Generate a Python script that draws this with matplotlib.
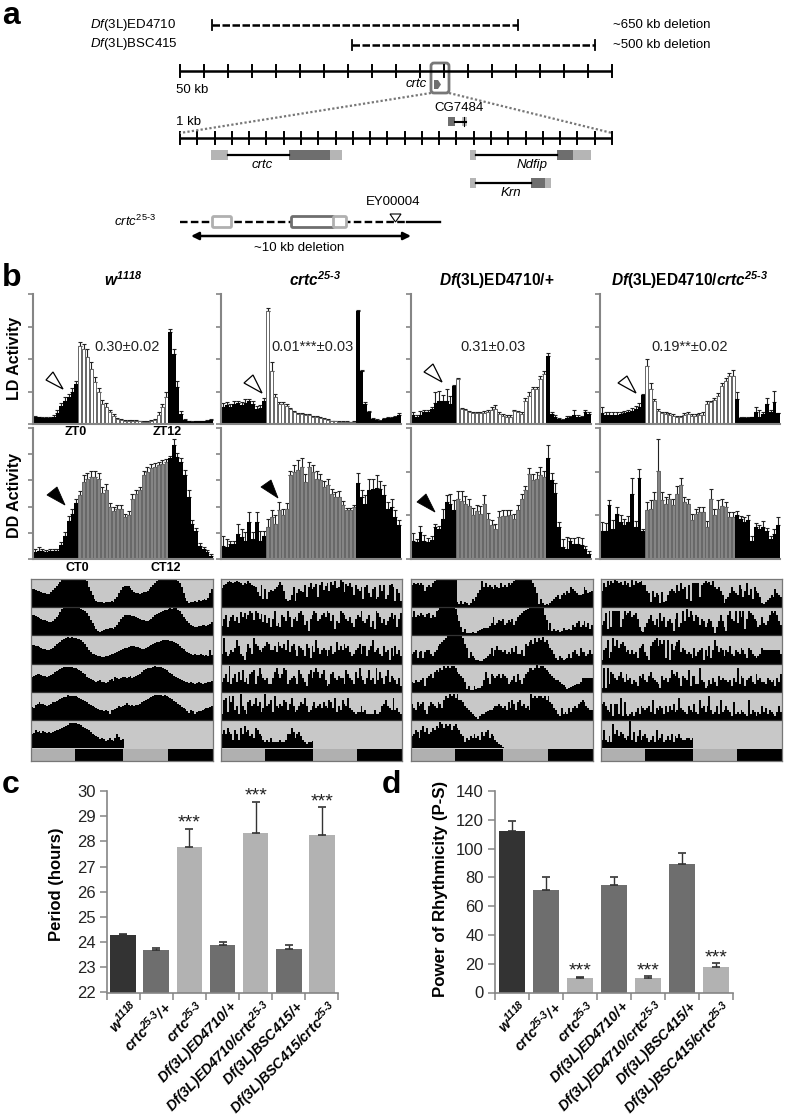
import numpy as np
import matplotlib
matplotlib.use('Agg')
import matplotlib.pyplot as plt
from matplotlib.patches import Rectangle, FancyBboxPatch, Polygon

plt.rcParams['font.family'] = ['Liberation Sans', 'DejaVu Sans']
plt.rcParams['mathtext.fontset'] = 'custom'
plt.rcParams['mathtext.rm'] = 'Liberation Sans'
plt.rcParams['mathtext.it'] = 'Liberation Sans:italic'
plt.rcParams['mathtext.bf'] = 'Liberation Sans:bold'
plt.rcParams['mathtext.bfit'] = 'Liberation Sans:italic:bold'

W, H = 787, 1119
AXC = '#858585'

# panel b, LD activity (one tick = 97.5)
ld_w = [22,20,19,18,18,22,34,55,70,80,95,120, 233,224,200,165,125,95,60,52,35,25,15,12,10,10,9,9,8,7,7,8,12,28,50,80, 275,210,110,30,12,8,6,8,8,8,9,12]
ld_w_err = [3,2,2,2,2,5,8,8,10,10,12,10, 12,15,25,20,15,12,12,10,8,5,4,3,3,3,2,2,2,2,2,3,4,8,10,15, 10,14,18,8,3,2,2,2,2,2,2,3]
ld_c = [50,58,52,60,62,58,62,68,60,45,48,70, 340,160,82,60,60,55,45,35,30,30,28,28,22,20,18,15,12,8,8,6,6,6,5,6, 340,160,60,35,15,12,10,15,18,18,20,28]
ld_c_err = [12,8,8,8,8,8,12,8,8,8,8,8, 9,27,8,5,5,5,4,4,4,4,3,3,3,3,3,3,2,2,2,2,2,2,2,2, 3,3,5,5,3,3,2,3,3,3,3,4]
ld_d = [28,22,28,35,35,45,62,70,68,70,60,115, 135,45,42,35,32,32,33,32,35,42,45,30,25,22,22,38,35,30,70,85,105,105,135,150, 205,30,22,15,12,18,20,28,22,20,35,30]
ld_d_err = [8,5,10,8,8,5,35,30,20,35,25,3, 3,3,3,3,3,3,3,6,8,8,12,5,4,4,4,4,4,5,8,10,5,5,8,8, 8,6,5,4,4,5,5,15,6,5,6,6]
ld_dc = [32,28,28,28,28,30,32,35,40,45,50,88, 175,105,70,40,33,30,28,25,20,20,28,30,25,25,28,28,60,65,72,85,115,130,145,145, 75,18,18,18,20,35,22,30,60,35,65,32]
ld_dc_err = [18,8,8,8,8,5,6,6,8,8,12,3, 20,18,5,6,4,5,5,4,3,3,5,6,4,4,5,8,8,5,5,8,8,8,8,18, 20,2,2,2,2,15,20,6,18,6,35,2]

# panel b, DD activity
dd_w = [22,25,24,22,23,24,25,42,70,112,135,168, 190,231,240,245,244,240,196,205,155,144,150,150,125,130,178,195,205,250,260,272,275,280,285,290, 300,340,305,290,250,185,105,85,40,30,20,10]
dd_w_err = [8,12,5,5,6,5,6,8,12,15,15,12, 12,20,18,18,18,18,20,20,12,12,12,12,10,12,15,12,10,12,15,12,12,10,10,8, 8,18,12,12,15,20,12,8,8,6,6,5]
dd_c = [40,35,45,45,75,65,55,110,60,110,55,70, 96,126,105,146,130,150,250,260,265,276,230,275,260,240,235,215,220,195,185,185,160,145,145,155, 226,185,165,205,210,212,208,190,150,155,125,100]
dd_c_err = [28,25,10,10,30,25,25,30,20,30,30,15, 22,20,25,25,20,18,12,22,30,25,25,15,22,22,18,18,20,15,15,18,12,8,8,6, 30,20,25,35,30,40,25,30,20,25,20,15]
dd_d = [55,50,80,55,50,58,95,90,120,170,165,145, 178,172,165,158,132,142,135,165,118,100,90,125,128,128,130,120,145,178,205,255,235,240,250,245, 300,236,196,96,35,30,53,45,45,43,30,15]
dd_d_err = [22,10,18,18,12,12,10,8,28,20,28,30, 25,30,22,22,20,18,22,25,20,15,15,18,18,18,15,15,15,15,12,18,20,20,25,18, 40,20,30,15,25,35,10,18,20,20,8,10]
dd_dc = [85,85,160,90,135,110,100,110,195,95,243,85, 145,150,175,264,175,165,180,160,193,220,170,165,115,135,140,140,95,180,130,150,157,155,125,125, 130,120,110,115,55,95,90,95,85,60,75,100]
dd_dc_err = [25,22,15,25,20,22,18,18,48,18,25,5, 25,25,25,95,25,20,15,20,25,22,15,15,18,15,15,15,18,30,18,25,22,15,15,15, 12,8,15,15,15,12,12,18,8,10,15,25]

ld_values = [(ld_w, ld_w_err), (ld_c, ld_c_err), (ld_d, ld_d_err), (ld_dc, ld_dc_err)]
dd_values = [(dd_w, dd_w_err), (dd_c, dd_c_err), (dd_d, dd_d_err), (dd_dc, dd_dc_err)]
dd_ticks = [5, 5, 3, 3]
ld_notes = ['0.30±0.02', '0.01***±0.03', '0.31±0.03', '0.19**±0.02']

# actograms, activity per bin, 28 = full row
acto_w = [
 [18,18,17,16,16,15,14,14,13,13,15,17,19,21,23,25,27,28,28,28,28,28,28,28,28,28,28,28,28,26,20,16,12,8,6,5,5,5,4,5,5,5,6,5,8,10,14,17,20,21,21,21,19,17,15,14,14,13,14,15,15,16,18,20,22,24,26,27,28,28,28,28,28,28,28,28,28,26,24,20,14,9,6,4,5,5,6,5,7,6,7,8,7,9,14,18],
 [20,20,19,18,17,16,15,15,14,13,13,14,16,18,20,23,26,27,28,28,28,28,28,28,28,27,26,25,24,22,19,15,12,9,6,4,3,4,5,6,6,7,7,6,8,10,13,16,18,20,20,20,20,19,19,18,17,16,15,15,14,14,15,16,18,20,21,22,23,24,25,25,26,27,26,27,27,25,24,21,18,16,14,12,10,9,8,8,9,9,10,10,9,10,11,13],
 [19,19,18,18,17,16,15,15,14,14,15,16,18,20,21,22,24,25,26,27,26,27,26,26,25,25,24,22,20,17,14,12,10,10,9,8,8,7,7,8,8,9,10,10,11,12,13,14,15,16,16,17,18,18,18,17,17,16,15,15,16,17,18,19,20,21,22,22,23,24,24,24,24,23,23,22,21,20,18,16,15,13,12,11,10,9,10,9,9,10,9,8,9,8,14,9],
 [15,16,17,18,18,17,16,16,15,16,17,18,20,21,22,23,24,25,25,25,25,25,24,24,23,22,21,19,18,15,14,13,12,11,10,11,12,10,10,9,10,12,13,11,15,14,13,14,15,15,14,15,16,14,15,16,17,18,20,22,23,24,24,24,25,26,25,25,25,24,23,22,20,19,18,16,15,14,13,12,11,10,10,9,10,9,8,9,10,9,8,9,9,10,10,11],
 [13,12,15,16,18,16,16,15,14,15,16,18,18,19,20,21,22,23,23,25,24,24,24,24,23,22,21,20,19,18,16,15,14,13,12,11,10,10,9,10,9,6,10,10,11,12,14,13,14,15,17,15,14,15,14,15,15,16,18,19,20,21,22,23,24,25,25,25,25,24,25,24,23,22,21,19,18,16,15,13,12,11,9,7,10,9,6,8,9,9,10,11,12,12,13,14],
 [14,15,18,16,17,15,17,16,15,16,15,16,17,18,18,19,20,21,22,23,25,25,25,25,24,24,23,21,20,19,18,16,14,13,12,11,9,10,9,7,8,10,8,7,10,14,11,8,9],
]
acto_c = [
 [19,22,23,25,26,25,24,25,26,25,24,22,24,23,26,24,22,21,20,15,11,22,8,18,8,15,17,16,18,20,22,25,22,16,8,6,7,12,20,6,14,18,16,15,22,10,20,24,18,20,23,10,22,25,17,21,24,16,25,22,26,19,20,27,25,15,23,21,24,20,12,22,18,16,20,8,20,22,14,10,18,20,8,10,22,16,22,8,12,22,23,20,6,18,14,6],
 [9,16,20,8,14,18,20,14,18,12,23,18,22,16,20,24,22,15,24,22,16,21,13,20,12,17,8,16,24,9,12,8,20,18,14,24,18,8,16,18,14,22,24,20,10,14,4,16,20,24,22,14,16,20,22,18,24,22,14,20,6,14,12,24,22,20,16,14,18,12,8,16,20,18,24,14,12,16,20,8,14,6,24,22,18,12,16,10,14,18,22,16,20,8,16,22],
 [10,26,12,8,10,14,12,16,24,18,10,8,4,12,20,16,10,26,20,18,14,12,16,18,22,20,14,14,18,12,22,18,16,20,14,24,12,18,20,14,8,18,16,14,8,20,16,6,18,12,24,16,10,14,16,14,8,14,18,10,12,22,14,18,14,20,16,18,12,8,10,14,16,20,10,18,18,8,14,18,24,12,14,16,10,8,18,12,14,4,16,8,18,10,14,8],
 [10,14,18,10,26,8,14,18,10,20,12,22,10,14,8,18,20,22,8,16,24,18,14,12,14,8,8,14,20,24,18,14,18,24,22,8,12,14,16,14,8,22,18,14,10,6,18,22,14,20,24,20,14,18,22,12,6,8,18,20,14,12,16,14,14,8,22,18,14,12,8,20,14,24,16,12,8,14,22,12,14,8,24,12,20,14,8,16,22,10,16,14,12,8,14,6],
 [6,20,22,8,24,18,24,10,14,6,26,14,10,6,18,20,14,16,22,14,18,8,12,26,14,16,20,8,24,14,12,16,14,20,18,10,16,22,14,8,10,14,18,16,22,14,8,10,14,18,12,14,16,12,18,14,12,20,18,12,22,8,14,10,20,16,14,22,12,10,8,6,8,8,14,8,10,6,6,6,6,10,6,6,8,14,16,20,14,12,10,22,10,12,8,6],
 [14,18,14,20,16,14,8,18,14,8,20,14,22,16,18,12,14,10,20,18,14,12,8,6,8,6,10,6,6,6,6,8,6,6,8,14,14,20,16,10,14,16,12,8,6,4,6,6,7],
]
acto_d = [
 [22,24,23,24,22,24,22,16,20,22,20,24,26,28,28,28,28,28,28,28,28,28,28,28,5,3,6,3,5,4,2,4,8,6,10,14,17,26,20,24,20,22,20,18,22,20,19,24,20,22,20,24,22,24,26,28,28,28,28,28,28,28,28,28,24,20,14,3,8,4,2,3,2,4,6,8,10,12,8,12,14,12,16,14,20,18,16,14,12,12,13,20,17,14,15,16],
 [18,24,18,20,19,22,20,18,21,22,17,20,18,24,25,28,28,28,28,28,28,28,28,26,20,14,8,3,6,2,2,2,3,2,2,4,5,6,7,7,7,9,12,18,10,12,15,14,16,10,12,15,13,16,10,14,18,20,22,24,25,26,28,28,28,28,28,28,28,28,20,15,5,12,4,6,4,5,3,4,7,5,5,6,5,10,8,12,14,8,10,14,8,12,6,10],
 [10,12,14,6,12,13,6,12,14,14,10,8,12,14,18,20,22,24,26,28,28,28,28,28,28,28,28,26,20,16,6,12,8,6,4,4,3,3,5,6,8,10,16,8,14,18,14,14,12,14,10,12,10,16,12,18,10,10,14,8,20,18,22,24,20,26,22,26,24,27,22,24,20,16,14,10,6,4,8,6,4,5,6,10,6,12,14,10,8,16,12,12,8,10,14,10],
 [10,9,12,10,10,12,14,6,14,16,18,14,20,22,20,24,22,26,24,26,24,26,26,24,20,18,16,14,10,3,6,2,2,6,3,4,4,6,12,20,14,8,18,16,14,16,18,14,18,16,14,8,10,12,16,10,18,12,8,14,18,20,24,24,22,24,27,24,26,26,24,22,20,18,16,14,12,12,10,8,7,5,3,4,5,6,7,8,8,10,14,14,14,14,14,14],
 [16,12,10,18,14,16,18,10,6,14,18,16,14,12,18,16,12,20,24,22,26,24,26,22,26,20,20,18,14,12,10,8,6,4,3,1,4,6,6,8,9,10,10,12,14,14,16,14,12,14,10,18,12,20,16,10,18,20,14,16,12,14,10,26,22,24,22,24,24,22,24,20,24,18,16,12,10,6,4,12,6,8,6,12,8,12,14,12,16,18,20,18,14,12,10,10],
 [12,14,18,16,10,18,22,16,20,14,16,20,18,22,20,26,24,20,24,22,24,18,22,24,20,18,14,12,6,10,8,12,10,14,10,12,8,16,12,16,18,10,14,12,8,6,4,3,1],
]
acto_dc = [
 [16,24,20,26,22,26,24,27,26,24,25,22,26,22,24,20,28,22,26,24,25,26,22,22,16,14,5,16,10,14,12,4,15,5,6,12,16,18,16,14,22,16,24,18,20,8,22,6,24,24,24,24,10,22,24,26,24,25,22,26,20,18,20,16,12,4,8,10,14,20,16,14,12,22,18,10,16,24,12,18,8,20,16,14,10,4,3,5,7,9,12,10,18,14,12,10],
 [10,14,22,6,24,8,24,24,24,24,8,16,24,20,22,24,18,20,22,16,8,4,3,8,12,16,20,14,10,16,8,22,14,18,8,14,16,12,4,16,22,8,12,24,14,26,18,24,20,14,20,18,10,16,14,8,12,16,14,8,2,8,14,20,14,8,4,20,24,16,14,24,12,24,18,24,6,16,24,22,20,16,14,8,10,18,12,10,14,20,24,22,24,20,14,10],
 [4,14,16,24,6,12,26,18,24,16,20,22,18,12,14,10,14,10,12,6,16,18,20,12,8,4,18,22,24,26,18,24,20,24,6,24,4,20,14,18,22,24,12,16,14,10,12,10,6,16,8,12,14,16,4,14,8,18,6,14,24,18,12,16,14,8,14,12,18,10,8,14,12,10,16,14,10,6,16,14,10,8,6,8,10,16,14,14,14,14,14,14,14,14,14,10],
 [4,24,4,24,8,20,18,14,12,16,20,14,10,18,12,14,8,12,10,6,16,14,18,12,10,16,20,14,12,10,8,4,16,12,14,10,14,22,18,16,20,14,6,16,14,12,22,6,16,16,8,8,24,12,10,4,6,12,8,14,10,6,16,12,14,12,12,10,12,6,14,10,24,8,16,14,6,12,14,16,10,8,18,12,14,10,10,8,14,12,10,12,6,14,10,18],
 [16,18,14,10,8,16,4,16,16,6,22,4,18,6,4,6,8,4,8,12,6,14,12,10,12,14,8,20,6,12,10,14,12,6,14,8,14,10,16,8,10,22,12,10,8,6,14,10,8,16,8,6,20,12,14,8,14,24,10,6,8,14,6,20,8,10,14,10,8,4,18,6,8,6,10,8,6,4,20,6,10,8,4,8,6,14,8,12,6,10,8,6,4,8,14,8],
 [8,18,8,6,12,6,24,14,18,12,16,14,10,8,12,28,8,16,6,12,18,8,12,14,10,6,8,12,6,18,8,10,14,6,8,12,8,14,6,12,10,14,10,8,8,10,10,8,10],
]
acto_rows = [acto_w, acto_c, acto_d, acto_dc]

# panels c and d
genotypes = [r'$\mathbfit{w^{1118}}$',
             r'$\mathbfit{crtc^{25‐3}/\!+}$',
             r'$\mathbfit{crtc^{25‐3}}$',
             r'$\mathbfit{Df(3L)ED4710/\!+}$',
             r'$\mathbfit{Df(3L)ED4710/crtc^{25‐3}}$',
             r'$\mathbfit{Df(3L)BSC415/\!+}$',
             r'$\mathbfit{Df(3L)BSC415/crtc^{25‐3}}$']
period = [24.27, 23.67, 27.78, 23.90, 28.35, 23.73, 28.27]
period_err = [0.05, 0.08, 0.73, 0.10, 1.23, 0.16, 1.08]
period_sig = [2, 4, 6]
power = [112, 71, 10, 74.5, 10, 89.5, 18]
power_err = [7.5, 9, 1, 6, 1.2, 7.5, 2.2]
power_sig = [2, 4, 6]
bar_cols = ['#333333', '#6e6e6e', '#b2b2b2', '#6e6e6e', '#b2b2b2', '#6e6e6e', '#b2b2b2']


def pxaxes(x0, y0, x1, y1):
    return fig.add_axes([x0 / W, 1 - y1 / H, (x1 - x0) / W, (y1 - y0) / H])


fig = plt.figure(figsize=(W / 100, H / 100), dpi=100)
ov = fig.add_axes([0, 0, 1, 1], zorder=5)
ov.set_xlim(0, W)
ov.set_ylim(H, 0)
ov.axis('off')
ov.patch.set_alpha(0)


def txt(x, y, s, size=9.5, ha='left', **kw):
    ov.text(x, y, s, fontsize=size, ha=ha, va='center', **kw)


def ruler(y, xs):
    ov.plot([xs[0], xs[-1]], [y, y], color='k', lw=1.8, solid_capstyle='butt')
    for x in xs:
        ov.plot([x, x], [y - 6, y + 6], color='k', lw=1.4)


def box(x0, x1, y, h, col):
    ov.add_patch(Rectangle((x0, y - h / 2), x1 - x0, h, fc=col, ec='none'))


for s, x, y in [('a', 2, 16), ('b', 2, 278), ('c', 2, 785), ('d', 382, 785)]:
    txt(x, y, s, size=23, fontweight='bold')

# panel a
for y, x0, x1, lab, note in [(25, 212, 518, r'$\mathit{Df}$(3L)ED4710', '~650 kb deletion'),
                             (44.5, 352, 595, r'$\mathit{Df}$(3L)BSC415', '~500 kb deletion')]:
    txt(90, y, lab)
    txt(613, y, note)
    ov.plot([x0, x1], [y, y], color='k', lw=1.8, dashes=(3, 1))
    ov.plot([x0, x0], [y - 5, y + 5], color='k', lw=1.3)
    ov.plot([x1, x1], [y - 5, y + 5], color='k', lw=1.3)

ruler(71, np.linspace(180, 612, 19))
ruler(138, np.linspace(180, 612, 26))
txt(176, 90, '50 kb')
txt(427, 84, 'crtc', ha='right', style='italic')
ov.add_patch(Polygon([(434, 80), (438, 80), (441, 84.5), (438, 89), (434, 89)], fc='#6e6e6e', ec='none'))
ov.add_patch(FancyBboxPatch((433, 65), 14, 26, boxstyle='round,pad=2,rounding_size=3', fc='none', ec='#777777', lw=2))
ov.plot([431, 180], [93, 133], color='#777777', lw=1.6, ls=(0, (1, 1)))
ov.plot([449, 612], [93, 133], color='#777777', lw=1.6, ls=(0, (1, 1)))
txt(459, 108, 'CG7484', ha='center')
txt(176, 122, '1 kb')
ov.plot([455, 466], [121.5, 121.5], color='k', lw=1.5)
box(447.5, 455, 121.5, 9, '#6e6e6e')
box(462, 467, 121.5, 9, '#c0c0c0')
ov.plot([464, 464], [117, 126], color='k', lw=0.8)

for y, parts, line, name, nx, ny in [
        (155, [(211, 228, '#b5b5b5'), (289, 330, '#6e6e6e'), (330, 342, '#b5b5b5')], (228, 289), 'crtc', 262, 165),
        (155, [(470, 476, '#b5b5b5'), (557, 573, '#6e6e6e'), (573, 591, '#b5b5b5')], (476, 557), 'Ndfip', 532, 165),
        (183, [(470, 476, '#b5b5b5'), (531, 545, '#6e6e6e'), (545, 551, '#b5b5b5')], (476, 531), 'Krn', 511, 193)]:
    ov.plot(line, [y, y], color='k', lw=1.6)
    for x0, x1, c in parts:
        box(x0, x1, y, 10.5, c)
    txt(nx, ny, name, ha='center', style='italic')

txt(114, 221, r'$\mathit{crtc^{25‐3}}$')
ov.plot([180, 407], [221.5, 221.5], color='k', lw=1.7, dashes=(3.2, 1.4))
ov.plot([407, 440], [221.5, 221.5], color='k', lw=1.7)
for x0, x1, c in [(213, 231, '#b0b0b0'), (292, 334, '#6e6e6e'), (334, 346, '#b0b0b0')]:
    ov.add_patch(FancyBboxPatch((x0, 217), x1 - x0, 10, boxstyle='round,pad=0.5,rounding_size=1.5', fc='w', ec=c, lw=2, zorder=3))
ov.add_patch(Polygon([(390, 214), (401, 214), (395.5, 222)], fc='w', ec='k', lw=0.8, zorder=4))
txt(393, 202, 'EY00004', ha='center')
ov.annotate('', xy=(191, 236), xytext=(411, 236),
            arrowprops=dict(arrowstyle='<|-|>', color='k', lw=1.8, mutation_scale=11, shrinkA=0, shrinkB=0))
txt(299, 248, '~10 kb deletion', ha='center')

# panel b histograms
xpos = [(33, 213), (221, 401), (411, 591), (600, 780)]
titles = [r'$\mathbfit{w^{1118}}$', r'$\mathbfit{crtc^{25‐3}}$',
          r'$\mathbfit{Df}\mathbf{(3L)ED4710/\!+}$',
          r'$\mathbfit{Df}\mathbf{(3L)ED4710/}\mathbfit{crtc^{25‐3}}$']
tcent = [123, 315, 497, 690]
note_x = [127, 313, 493, 690]


def hist(ax, vals, errs, midcol, nticks, ymax):
    xs = np.arange(48)
    cols = ['k'] * 12 + [midcol] * 24 + ['k'] * 12
    ax.errorbar(xs, vals, yerr=[np.zeros(48), errs], fmt='none', ecolor='#222222', elinewidth=0.8, capsize=1.6, capthick=0.8, zorder=1)
    for x, v, c in zip(xs, vals, cols):
        if c == 'k':
            ax.bar(x, v, width=1.0, color='k', zorder=2)
        else:
            ax.bar(x, v, width=0.8, color=c, edgecolor='#666666', lw=0.7, zorder=2)
    ax.set_xlim(-0.5, 47.5)
    ax.set_ylim(0, ymax)
    ax.set_xticks([])
    ax.set_yticks(np.linspace(0, ymax, nticks + 1))
    ax.set_yticklabels([])
    ax.tick_params(axis='y', length=3.5, width=1.2, color=AXC)
    for s in ['top', 'right']:
        ax.spines[s].set_visible(False)
    for s in ['left', 'bottom']:
        ax.spines[s].set_color(AXC)
        ax.spines[s].set_linewidth(1.5)
    ax.patch.set_alpha(0)


for i in range(4):
    x0, x1 = xpos[i]
    hist(pxaxes(x0, 294, x1, 424), ld_values[i][0], ld_values[i][1], 'w', 4, 390)
    hist(pxaxes(x0, 428, x1, 559), dd_values[i][0], dd_values[i][1], '#858585', dd_ticks[i], 391)
    txt(tcent[i], 280, titles[i], size=11.2, ha='center')
    txt(note_x[i], 347, ld_notes[i], size=10.5, ha='center', color='#222222')

txt(15, 358, 'LD Activity', size=11.5, ha='center', rotation=90, fontweight='bold')
txt(15, 495, 'DD Activity', size=11.5, ha='center', rotation=90, fontweight='bold')
for x, y, s in [(76, 432, 'ZT0'), (167, 432, 'ZT12'), (77, 568, 'CT0'), (166, 568, 'CT12')]:
    txt(x, y, s, size=9, ha='center', fontweight='bold')

for apex, a, b in [((63, 389), (46, 380), (53, 372)), ((262, 393), (244, 383), (253, 375)),
                   ((442, 382), (424, 372), (433, 364)), ((636, 393), (618, 383), (627, 376))]:
    ov.add_patch(Polygon([apex, a, b], fc='w', ec='k', lw=0.9))
for apex, a, b in [((65, 505), (47, 495), (57, 487)), ((278, 498), (261, 487), (271, 480)),
                   ((435, 512), (417, 502), (426, 494))]:
    ov.add_patch(Polygon([apex, a, b], fc='k', ec='k', lw=0.6))

# actograms
acto_x = [(31, 213), (221, 402), (411, 593), (601, 782)]
for rows, (x0, x1) in zip(acto_rows, acto_x):
    ax = pxaxes(x0, 579, x1, 761)
    ax.set_xlim(0, 96)
    ax.set_ylim(182, 0)
    ax.set_facecolor('#c8c8c8')
    ax.set_xticks([])
    ax.set_yticks([])
    for s in ax.spines.values():
        s.set_color('#777777')
        s.set_linewidth(0.9)
    for r, row in enumerate(rows):
        base = 28.2 * (r + 1)
        ax.stairs(base - np.array(row), np.arange(len(row) + 1), baseline=base, fill=True, color='k')
        if r < 5:
            ax.plot([0, 96], [base, base], color='#333333', lw=0.9)
    for a, b, c in [(0, 23.2, '#b0b0b0'), (23.2, 48.7, 'k'), (48.7, 72, '#b0b0b0'), (72, 96, 'k')]:
        ax.add_patch(Rectangle((a, 169.5), b - a, 12.5, fc=c, ec='none'))
    ax.set_xlim(0, 96)
    ax.set_ylim(182, 0)


# panels c and d
def barpanel(x0, x1, vals, errs, sig, ymin, ymax, step, label, lab_x, lab_y, lab_size):
    ax = pxaxes(x0, 791, x1, 992.5)
    xs = np.arange(7)
    ax.bar(xs, np.array(vals) - ymin, bottom=ymin, width=0.77, color=bar_cols)
    ax.errorbar(xs, vals, yerr=[np.zeros(7), errs], fmt='none', ecolor='#333333', elinewidth=1, capsize=3, capthick=1.2)
    for i in sig:
        ax.annotate('***', (i, vals[i] + errs[i]), xytext=(0, 4), textcoords='offset points',
                    ha='center', va='center', fontsize=14, color='#222222')
    ax.set_xlim(-0.5, 6.5)
    ax.set_ylim(ymin, ymax)
    ax.set_yticks(np.arange(ymin, ymax + 1, step))
    ax.tick_params(axis='y', length=5, width=1.1, color=AXC, labelsize=12, pad=3, labelcolor='#222222')
    ax.set_xticks(np.arange(-0.5, 7, 1))
    ax.set_xticklabels([])
    ax.tick_params(axis='x', length=5, width=1.1, color=AXC)
    for s in ['top', 'right']:
        ax.spines[s].set_visible(False)
    for s in ['left', 'bottom']:
        ax.spines[s].set_color(AXC)
        ax.spines[s].set_linewidth(1.2)
    txt(lab_x, lab_y, label, size=lab_size, ha='center', rotation=90, fontweight='bold')
    for i, g in enumerate(genotypes):
        cx = x0 + (x1 - x0) * (i + 0.5) / 7
        ov.text(cx + 6, 998, g, fontsize=10.3, rotation=46, rotation_mode='anchor', ha='right', va='top')


barpanel(106.5, 338.5, period, period_err, period_sig, 22, 30, 1, 'Period (hours)', 57, 884, 12)
barpanel(495, 733, power, power_err, power_sig, 0, 140, 20, 'Power of Rhythmicity (P-S)', 440, 889, 12.2)

fig.savefig('out.png', dpi=100)
